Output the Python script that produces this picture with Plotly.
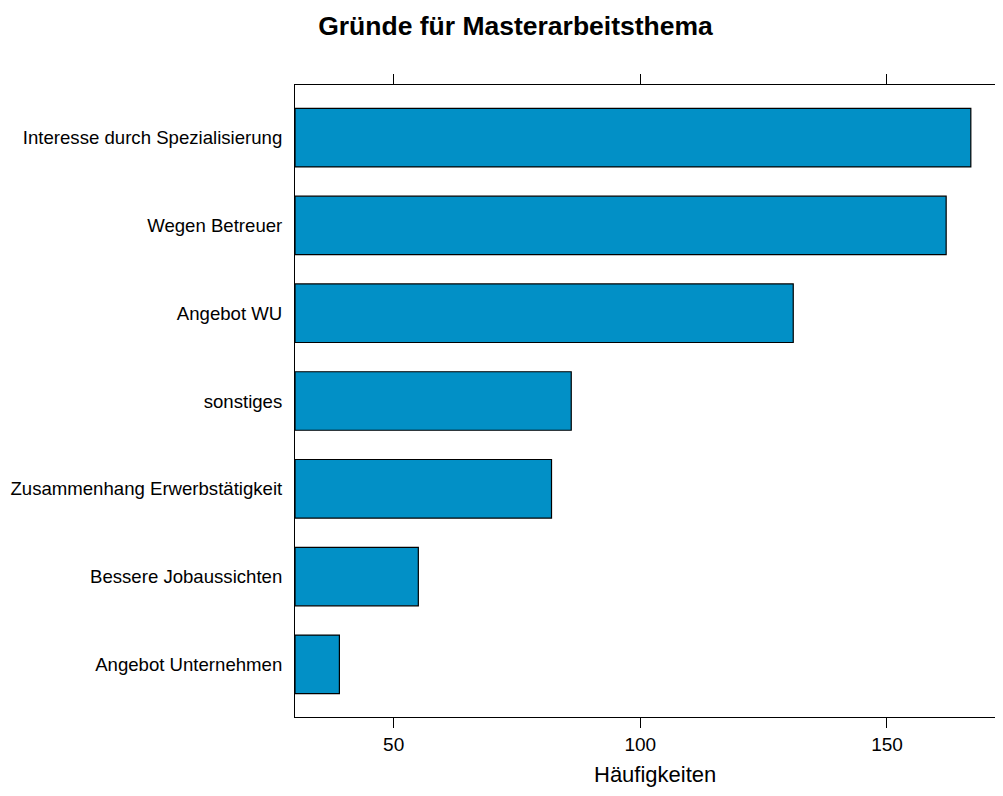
import plotly.graph_objects as go

# Gründe für Masterarbeitsthema (Häufigkeiten)
categories = ["Angebot Unternehmen", "Bessere Jobaussichten", "Zusammenhang Erwerbstätigkeit",
              "sonstiges", "Angebot WU", "Wegen Betreuer", "Interesse durch Spezialisierung"]
counts = [39, 55, 82, 86, 131, 162, 167]
x_ticks = [50, 100, 150]

base = 30  # lattice bars start at the lower axis limit

fig = go.Figure()
fig.add_trace(go.Bar(
    y=categories, x=[c - base for c in counts], base=base,
    orientation="h", width=2 / 3,
    marker=dict(color="#0290C6", line=dict(color="black", width=1.2)),
))

# page body keeps an 8px margin; size chosen so no scrollbars appear
W, H = 987, 780
fig.update_layout(
    width=W, height=H,
    plot_bgcolor="white", paper_bgcolor="white",
    margin=dict(l=287, r=0, t=77, b=71),
    showlegend=False,
    font=dict(family="Liberation Sans, Arial, sans-serif", color="black", size=19),
    title=dict(text="<b>Gründe für Masterarbeitsthema</b>", x=507.5 / W, xanchor="center",
               xref="container", yref="container", y=1 - 18 / H, yanchor="middle",
               font=dict(size=26.5, color="black")),
)

# x label centred under the (wider, cropped) lattice panel
fig.add_annotation(text="Häufigkeiten", xref="paper", yref="paper", x=0.514, y=0,
                   xanchor="center", yanchor="middle", yshift=-57, showarrow=False,
                   borderpad=0, font=dict(size=22))

fig.update_xaxes(
    range=[30, 171.9], tickvals=x_ticks, ticks="outside", ticklen=10, tickwidth=1,
    tickcolor="black", showline=True, linecolor="black", linewidth=1, mirror="ticks",
    showgrid=False, zeroline=False, tickfont=dict(size=19),
)
fig.update_yaxes(
    range=[-0.6, 6.6], showline=True, linecolor="black", linewidth=1, mirror=False,
    showgrid=False, zeroline=False, ticks="outside", ticklen=8, tickcolor="rgba(0,0,0,0)",
    tickfont=dict(size=18.6),
)

fig.write_html("out.html")
